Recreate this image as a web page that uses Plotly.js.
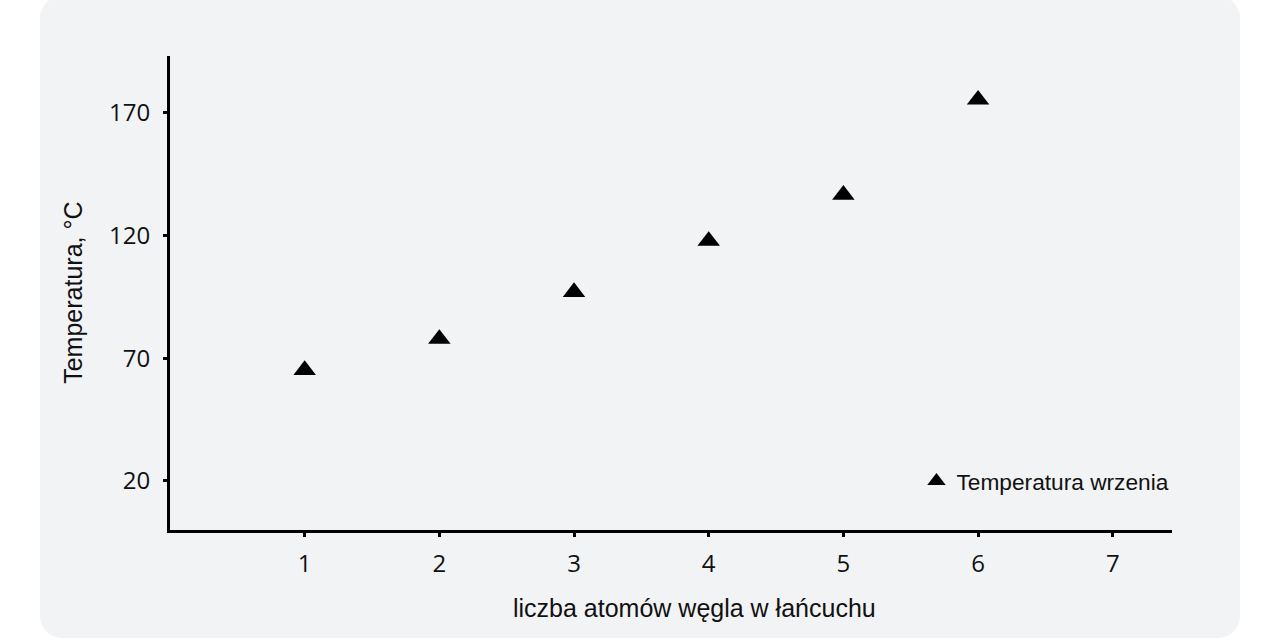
<!DOCTYPE html>
<html>
<head>
<meta charset="utf-8">
<script src="https://cdn.plot.ly/plotly-3.0.1.min.js"></script>
<style>
  html, body { margin: 0; padding: 0; background: #ffffff; }
  #wrap { position: relative; width: 1280px; height: 640px; overflow: hidden; }
  #panel { position: absolute; left: 40px; top: -4px; width: 1200px; height: 642px; background: #f2f3f5; border-radius: 22px; }
  #chart { position: absolute; left: 0; top: 0; width: 1280px; height: 640px; }
</style>
</head>
<body>
<div id="wrap">
  <div id="panel"></div>
  <div id="chart"></div>
</div>
<script>
// Data
const carbonAtoms = [1, 2, 3, 4, 5, 6];
const boilingTemp = [65.2, 77.9, 97.0, 117.8, 136.6, 175.4];
const seriesName = "Temperatura wrzenia";
const xTickVals = [1, 2, 3, 4, 5, 6, 7];
const yTickVals = [20, 70, 120, 170];
const xTitle = "liczba atomów węgla w łańcuchu";
const yTitle = "Temperatura, °C";

const xRange = [0, 7.44];
const yRange = [0, 193.2];

const trace = {
  x: carbonAtoms,
  y: boilingTemp,
  type: "scatter",
  mode: "markers",
  name: seriesName,
  marker: { symbol: "triangle-up", size: 19.5, color: "#000000" },
  hoverinfo: "x+y"
};

const tickFont = { family: "Open Sans, sans-serif", size: 24, color: "#111111" };

const layout = {
  width: 1280,
  height: 640,
  margin: { l: 170, r: 108, t: 56, b: 110, pad: 0 },
  paper_bgcolor: "rgba(0,0,0,0)",
  plot_bgcolor: "rgba(0,0,0,0)",
  showlegend: true,
  legend: {
    x: 0.745, xanchor: "left",
    y: 0.103, yanchor: "middle",
    bgcolor: "rgba(0,0,0,0)",
    font: { family: "Liberation Sans, Arial, sans-serif", size: 22.7, color: "#111111" },
    itemsizing: "trace"
  },
  xaxis: {
    range: xRange,
    tickvals: xTickVals,
    ticktext: xTickVals.map(String),
    showgrid: false, zeroline: false,
    showline: true, linecolor: "#000000", linewidth: 3,
    ticks: "outside", ticklen: 4, tickwidth: 3, tickcolor: "#000000",
    tickfont: tickFont,
    ticklabelstandoff: 6,
    fixedrange: true
  },
  yaxis: {
    range: yRange,
    tickvals: yTickVals,
    ticktext: yTickVals.map(String),
    showgrid: false, zeroline: false,
    showline: true, linecolor: "#000000", linewidth: 3,
    ticks: "outside", ticklen: 4, tickwidth: 3, tickcolor: "#000000",
    tickfont: tickFont,
    ticklabelstandoff: 8,
    fixedrange: true
  },
  xaxis2: {
    overlaying: "x", anchor: "y", side: "bottom",
    range: xRange, tickvals: xTickVals,
    showticklabels: false, showgrid: false, zeroline: false, showline: false,
    ticks: "inside", ticklen: 4, tickwidth: 3, tickcolor: "#000000",
    fixedrange: true
  },
  yaxis2: {
    overlaying: "y", anchor: "x", side: "left",
    range: yRange, tickvals: yTickVals,
    showticklabels: false, showgrid: false, zeroline: false, showline: false,
    ticks: "inside", ticklen: 4, tickwidth: 3, tickcolor: "#000000",
    fixedrange: true
  },
  annotations: [
    {
      text: xTitle, xref: "paper", yref: "paper",
      x: 0.5235, y: -0.165, xanchor: "center", yanchor: "middle",
      showarrow: false,
      font: { family: "Liberation Sans, Arial, sans-serif", size: 25, color: "#111111" }
    },
    {
      text: yTitle, xref: "paper", yref: "paper",
      x: -0.097, y: 0.5, xanchor: "center", yanchor: "middle",
      textangle: -90, showarrow: false,
      font: { family: "Liberation Sans, Arial, sans-serif", size: 25, color: "#111111" }
    }
  ]
};

Plotly.newPlot("chart", [trace], layout, { displayModeBar: false, staticPlot: true });
</script>
</body>
</html>
